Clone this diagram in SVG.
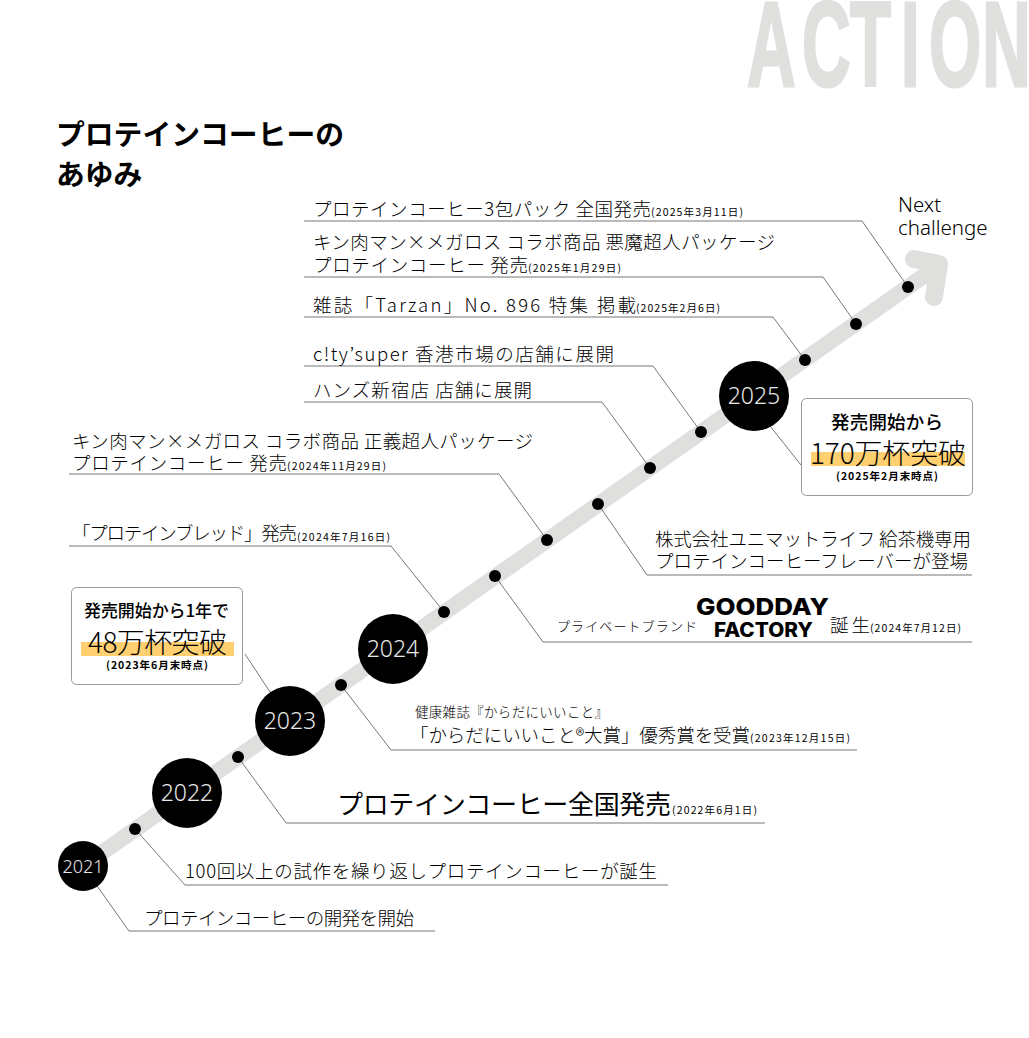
<svg xmlns="http://www.w3.org/2000/svg" width="1029" height="1038" viewBox="0 0 1029 1038">
<style>
text{font-family:"Noto Sans CJK JP","Noto Sans",sans-serif;fill:#000;font-weight:300}
.m{font-size:18.5px}
.d{font-size:10.500px;font-weight:400}
.c{fill:none;stroke:#777;stroke-width:1}
.dot{fill:#000}
.y{fill:#000}
.yt{fill:#e8e8e8;font-size:23px;text-anchor:middle;font-family:"Noto Sans",sans-serif}
.box{fill:#fff;stroke:#999;stroke-width:1}
.h{fill:#ffcf70}
.bt{font-weight:500;font-size:17px}
.bb{font-size:28px}
.bd{font-weight:700;font-size:10.500px}
.n{font-family:"Noto Sans",sans-serif;font-size:20.500px}
.logo{font-family:"Inter",sans-serif;font-weight:800}
</style>
<text transform="scale(.56 1)" x="1334 1432 1518 1609 1659 1754" y="85.500" style="font-family:'Liberation Sans Narrow','Liberation Sans',sans-serif;font-weight:700;fill:#e0e0de;stroke:#e0e0de;stroke-width:3;font-size:120px">ACTION</text>
<g id="title"><text x="56" y="145" style="font-size:28.800px;font-weight:700">プロテインコーヒーの</text><text x="56" y="185" style="font-size:28.800px;font-weight:700">あゆみ</text></g>
<g id="arrow" fill="none" stroke="#dfe0de" stroke-linecap="round" stroke-linejoin="round"><path stroke-width="16" d="M83 866L935 268"/><path stroke-width="18" d="M914 259L939 264L934 297"/></g>
<g id="connectors">
<path class="c" d="M83 866L129 931H435"/>
<path class="c" d="M135 829L185 885H668"/>
<path class="c" d="M238 757L286 823H765"/>
<path class="c" d="M341 685L391 750H857"/>
<path class="c" d="M495 576L543 642H972"/>
<path class="c" d="M598 504L647 575H972"/>
<path class="c" d="M547 540L499 474H69"/>
<path class="c" d="M444 612L391 546H69"/>
<path class="c" d="M650 468L602 402H304"/>
<path class="c" d="M701 432L653 366H304"/>
<path class="c" d="M805 360L773 317H304"/>
<path class="c" d="M856 324L823 277H304"/>
<path class="c" d="M908 287L862 221H304"/>
<path class="c" d="M245 654L270 692"/>
<path class="c" d="M770 426L801 465"/>
</g>
<g id="dots">
<circle class="dot" cx="135" cy="829" r="6"/><circle class="dot" cx="238" cy="757" r="6"/><circle class="dot" cx="341" cy="685" r="6"/><circle class="dot" cx="444" cy="612" r="6"/><circle class="dot" cx="495" cy="576" r="6"/><circle class="dot" cx="547" cy="540" r="6"/><circle class="dot" cx="598" cy="504" r="6"/><circle class="dot" cx="650" cy="468" r="6"/><circle class="dot" cx="701" cy="432" r="6"/><circle class="dot" cx="805" cy="360" r="6"/><circle class="dot" cx="856" cy="324" r="6"/><circle class="dot" cx="908" cy="287" r="6"/>
</g>
<g id="y2021"><circle class="y" cx="83" cy="866" r="25"/><text class="yt" x="83" y="873" style="font-size:18px">2021</text></g>
<g id="y2022"><circle class="y" cx="187" cy="793" r="35"/><text class="yt" x="187" y="801">2022</text></g>
<g id="y2023"><circle class="y" cx="290" cy="721" r="35"/><text class="yt" x="290" y="729">2023</text></g>
<g id="y2024"><circle class="y" cx="393" cy="649" r="35"/><text class="yt" x="393" y="657">2024</text></g>
<g id="y2025"><circle class="y" cx="754" cy="396" r="35"/><text class="yt" x="754" y="404">2025</text></g>
<g id="next"><text class="n" x="898" y="212">Next</text><text class="n" x="898" y="235">challenge</text></g>
<g id="e1"><text class="m" x="313" y="216" textLength="338">プロテインコーヒー3包パック 全国発売</text><text class="d" x="651" y="216" textLength="92">(2025年3月11日)</text></g>
<g id="e2"><text class="m" x="313" y="249" textLength="462">キン肉マン×メガロス コラボ商品 悪魔超人パッケージ</text><text class="m" x="313" y="272" textLength="215">プロテインコーヒー 発売</text><text class="d" x="528" y="272" textLength="93">(2025年1月29日)</text></g>
<g id="e3"><text class="m" x="313" y="312" textLength="323">雑誌「Tarzan」No. 896 特集 掲載</text><text class="d" x="636" y="312" textLength="84">(2025年2月6日)</text></g>
<g id="e4"><text class="m" x="313" y="361" textLength="301">c!ty’super 香港市場の店舗に展開</text></g>
<g id="e5"><text class="m" x="313" y="397" textLength="219">ハンズ新宿店 店舗に展開</text></g>
<g id="e6"><text class="m" x="72" y="448" textLength="461">キン肉マン×メガロス コラボ商品 正義超人パッケージ</text><text class="m" x="72" y="470" textLength="215">プロテインコーヒー 発売</text><text class="d" x="287" y="470" textLength="99">(2024年11月29日)</text></g>
<g id="e7"><text class="m" x="72" y="540" textLength="225">「プロテインブレッド」発売</text><text class="d" x="297" y="541" textLength="93">(2024年7月16日)</text></g>
<g id="e8"><text class="m" x="655" y="546" textLength="316">株式会社ユニマットライフ 給茶機専用</text><text class="m" x="655" y="568" textLength="313">プロテインコーヒーフレーバーが登場</text></g>
<g id="e9"><text x="557" y="631" style="font-size:13px" textLength="140">プライベートブランド</text><text class="logo" x="696" y="615" style="font-size:23.500px" textLength="133" lengthAdjust="spacingAndGlyphs">GOODDAY</text><text class="logo" x="714" y="637" style="font-size:20px" textLength="99" lengthAdjust="spacingAndGlyphs">FACTORY</text><text class="m" x="830" y="632" textLength="40">誕生</text><text class="d" x="870" y="632" textLength="91">(2024年7月12日)</text></g>
<g id="e10"><text x="415" y="717" style="font-size:13.500px" textLength="193">健康雑誌『からだにいいこと』</text><text class="m" x="410" y="742" textLength="340">「からだにいいこと®大賞」優秀賞を受賞</text><text class="d" x="750" y="742" textLength="100">(2023年12月15日)</text></g>
<g id="e11"><text x="337" y="814" style="font-size:26px;font-weight:400" textLength="334">プロテインコーヒー全国発売</text><text class="d" x="672" y="814" textLength="85">(2022年6月1日)</text></g>
<g id="e12"><text class="m" x="185" y="878" textLength="472">100回以上の試作を繰り返しプロテインコーヒーが誕生</text></g>
<g id="e13"><text class="m" x="144" y="925" textLength="270">プロテインコーヒーの開発を開始</text></g>
<g id="b2023"><rect class="box" x="71.500" y="587.500" width="171" height="97" rx="5"/><rect class="h" x="81" y="642" width="153" height="14"/><text class="bt" x="84" y="617" textLength="145">発売開始から1年で</text><text class="bb" x="88" y="653" textLength="139">48万杯突破</text><text class="bd" x="106" y="669" textLength="102">(2023年6月末時点)</text></g>
<g id="b2025"><rect class="box" x="801.500" y="398.500" width="171" height="97" rx="5"/><rect class="h" x="811" y="452" width="154" height="14"/><text class="bt" x="831" y="429" style="font-size:18.500px" textLength="112">発売開始から</text><text class="bb" x="810" y="464" textLength="156">170万杯突破</text><text class="bd" x="836" y="480" textLength="102">(2025年2月末時点)</text></g>
</svg>
